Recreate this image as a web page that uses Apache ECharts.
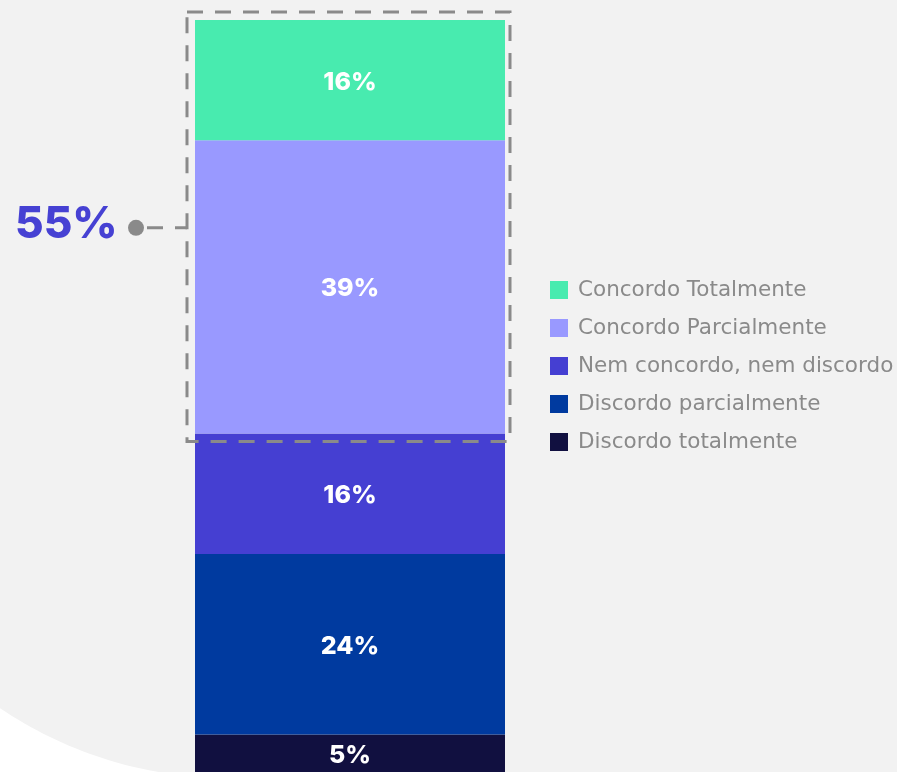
<!DOCTYPE html>
<html>
<head>
<meta charset="utf-8">
<script src="https://cdn.jsdelivr.net/npm/echarts@6/dist/echarts.min.js"></script>
<style>
  html, body { margin: 0; padding: 0; background: #f2f2f2; }
  #chart { width: 897px; height: 772px; }
</style>
</head>
<body>
<div id="chart"></div>
<script>
// Survey answer shares (%), listed from the bottom of the stack to the top
const categories = ['Resposta'];
const seriesNames = [
  'Discordo totalmente',
  'Discordo parcialmente',
  'Nem concordo, nem discordo',
  'Concordo Parcialmente',
  'Concordo Totalmente'
];
const discordoTotalmente = [5];
const discordoParcialmente = [24];
const nemConcordoNemDiscordo = [16];
const concordoParcialmente = [39];
const concordoTotalmente = [16];
const seriesColors = ['#111040', '#003A9F', '#453FD2', '#9999FF', '#48EBAF'];
const legendOrder = seriesNames.slice().reverse();

const seriesValues = [
  discordoTotalmente,
  discordoParcialmente,
  nemConcordoNemDiscordo,
  concordoParcialmente,
  concordoTotalmente
];

// Share of respondents who agree (totally + partially)
const agreeShare = concordoTotalmente[0] + concordoParcialmente[0];

const FONT = 'Inter, "Noto Sans", sans-serif';
const LEGEND_FONT = '"DejaVu Sans", "Noto Sans", sans-serif';
const chart = echarts.init(document.getElementById('chart'), null, { renderer: 'canvas' });

const option = {
  backgroundColor: '#f2f2f2',
  animation: false,
  grid: { left: 195, right: 392, top: 20, bottom: -2 },
  xAxis: { type: 'category', data: categories, show: false },
  yAxis: { type: 'value', min: 0, max: 100, show: false },
  legend: {
    orient: 'vertical',
    left: 550,
    top: 279,
    padding: 0,
    data: legendOrder,
    icon: 'rect',
    itemWidth: 18,
    itemHeight: 18,
    itemGap: 16,
    textStyle: {
      color: '#8a8a8a',
      fontSize: 21.5,
      fontFamily: LEGEND_FONT,
      lineHeight: 20,
      padding: [0, 0, 0, 5]
    }
  },
  series: seriesNames.map((name, i) => ({
    name: name,
    type: 'bar',
    stack: 'total',
    barWidth: '100%',
    data: seriesValues[i],
    itemStyle: { color: seriesColors[i] },
    label: {
      show: true,
      position: 'inside',
      offset: [0, 2],
      formatter: '{c}%',
      color: '#ffffff',
      fontSize: 25,
      fontWeight: 800,
      fontFamily: FONT
    }
  }))
};
chart.setOption(option);

// White corner cut out by the large backdrop circle (bottom-left)
function cornerPoints() {
  const cx = 228, cy = 371, r = 407;
  const pts = [];
  for (let deg = 126; deg >= 90; deg -= 1) {
    const a = deg * Math.PI / 180;
    pts.push([cx + r * Math.cos(a), cy + r * Math.sin(a)]);
  }
  pts.push([cx, 790], [-10, 790]);
  return pts;
}

// Dashed frame around the "agree" segments, with a callout showing their total
function drawCallout() {
  const topPx = chart.convertToPixel({ gridIndex: 0 }, [0, 100])[1];
  const agreeBottomPx = chart.convertToPixel({ gridIndex: 0 }, [0, 100 - agreeShare])[1];
  const leftPx = 195, rightPx = 505;
  const frame = { x: leftPx - 8, y: topPx - 8, width: rightPx + 5 - (leftPx - 8), height: agreeBottomPx + 8 - (topPx - 8) };
  const midY = (topPx + agreeBottomPx) / 2 + 1;
  chart.setOption({
    graphic: [
      {
        type: 'polygon',
        z: -10,
        silent: true,
        shape: { points: cornerPoints() },
        style: { fill: '#ffffff' }
      },
      {
        type: 'rect',
        z: 10,
        silent: true,
        shape: frame,
        style: { fill: 'none', stroke: '#8a8a8a', lineWidth: 3, lineDash: [16, 12] }
      },
      {
        type: 'line',
        z: 10,
        silent: true,
        shape: { x1: 147, y1: midY, x2: frame.x, y2: midY },
        style: { stroke: '#8a8a8a', lineWidth: 3, lineDash: [16, 12] }
      },
      {
        type: 'circle',
        z: 10,
        silent: true,
        shape: { cx: 136, cy: midY, r: 8 },
        style: { fill: '#8a8a8a' }
      },
      {
        type: 'text',
        z: 10,
        silent: true,
        x: 15,
        y: midY - 3,
        style: {
          text: agreeShare + '%',
          fill: '#4641D3',
          font: '800 44px ' + FONT,
          textVerticalAlign: 'middle'
        }
      }
    ]
  });
}
drawCallout();
</script>
</body>
</html>
